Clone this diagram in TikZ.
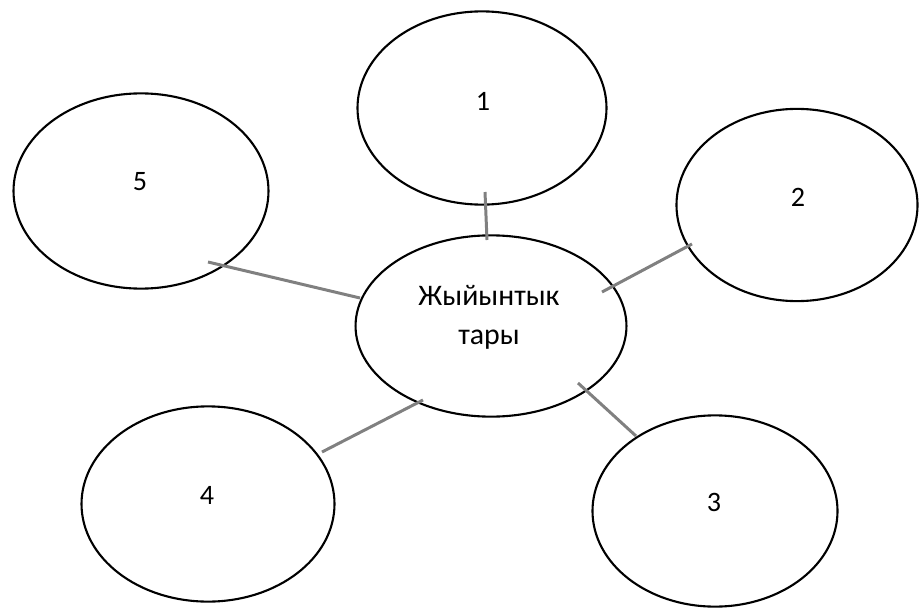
\documentclass[tikz,border=0pt]{standalone}
\usepackage{fontspec}
\setmainfont{Carlito}
\usetikzlibrary{shapes.geometric}

\begin{document}
\begin{tikzpicture}[x=0.02cm,y=-0.02cm,
oval/.style={draw,ellipse,line width=1.2pt,inner sep=0pt},
numero/.style={font=\fontsize{16}{19}\selectfont},
centro/.style={font=\fontsize{17}{22}\selectfont,align=center},
legame/.style={draw=gray,line width=1.7pt}
]
\useasboundingbox (0,0) rectangle (919,608);
%--
\node[oval,minimum width=272*0.5669pt,minimum height=182*0.5669pt](c) at (491,326){};
\node[centro] at (489,317){Жыйынтык\\тары};
%--
\node[oval,minimum width=250*0.5669pt,minimum height=194*0.5669pt](a) at (482,108){};
\node[numero] at (483,101){1};
%--
\node[oval,minimum width=242*0.5669pt,minimum height=193*0.5669pt](b) at (797,205){};
\node[numero] at (798,197){2};
%--
\node[oval,minimum width=246*0.5669pt,minimum height=192*0.5669pt](d) at (715,511){};
\node[numero] at (714,502){3};
%--
\node[oval,minimum width=254*0.5669pt,minimum height=196*0.5669pt](e) at (208,504){};
\node[numero] at (207,495){4};
%--
\node[oval,minimum width=256*0.5669pt,minimum height=196*0.5669pt](f) at (141,191){};
\node[numero] at (140,182){5};
%--
\coordinate (a1) at (485,192); \coordinate (c1) at (487,240);
\draw[legame] (a1) -- (c1);
\coordinate (b1) at (692,244); \coordinate (c2) at (602,292);
\draw[legame] (b1) -- (c2);
\coordinate (d1) at (636,436); \coordinate (c3) at (578,383);
\draw[legame] (d1) -- (c3);
\coordinate (e1) at (322,452); \coordinate (c4) at (423,400);
\draw[legame] (e1) -- (c4);
\coordinate (f1) at (208,262); \coordinate (c5) at (360,298);
\draw[legame] (f1) -- (c5);
\end{tikzpicture}
\end{document}
